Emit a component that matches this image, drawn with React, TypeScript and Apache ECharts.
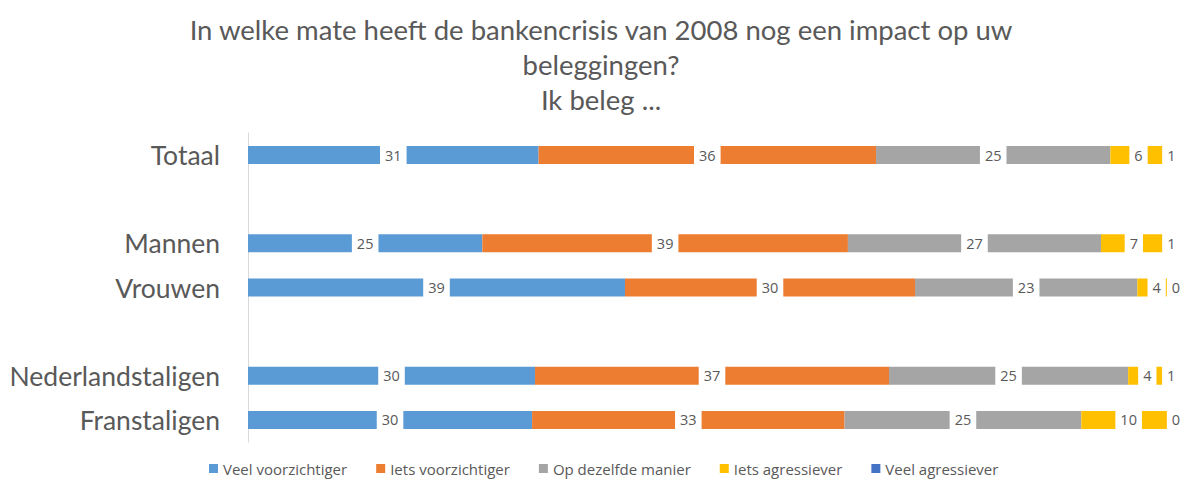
import React, { useEffect, useRef } from "react";
import * as echarts from "echarts";

const categories = ["Totaal", "", "Mannen", "Vrouwen", "", "Nederlandstaligen", "Franstaligen"];
const seriesNames = ["Veel voorzichtiger", "Iets voorzichtiger", "Op dezelfde manier", "Iets agressiever", "Veel agressiever"];
const colors = ["#5B9BD5", "#ED7D31", "#A5A5A5", "#FFC000", "#4472C4"];
// values per category row (null = spacer row)
const veelVoorzichtiger = [31, null, 25, 39, null, 30, 30];
const ietsVoorzichtiger = [36, null, 39, 30, null, 37, 33];
const opDezelfdeManier = [25, null, 27, 23, null, 25, 25];
const ietsAgressiever = [6, null, 7, 4, null, 4, 10];
const veelAgressiever = [1, null, 1, 0, null, 1, 0];

const allSeries = [veelVoorzichtiger, ietsVoorzichtiger, opDezelfdeManier, ietsAgressiever, veelAgressiever];

export default function App() {
  const ref = useRef<HTMLDivElement>(null);
  useEffect(() => {
    document.body.style.margin = "0";
    const chart = echarts.init(ref.current!, null, { renderer: "svg" });
    const totals = categories.map((_, i) =>
      allSeries.reduce((s, arr) => s + (arr[i] == null ? 0 : (arr[i] as number)), 0)
    );
    const series = allSeries.map((arr, si) => ({
      name: seriesNames[si],
      type: "bar",
      stack: "total",
      barWidth: 18,
      clip: false,
      itemStyle: { color: colors[si] },
      label: {
        show: true,
        position: "inside",
        formatter: (p: any) => String(p.data.raw),
        color: "#595959",
        fontFamily: "Open Sans",
        fontSize: 14.5,
        backgroundColor: "#ffffff",
        padding: [3, 5],
        lineHeight: 18,
      },
      data: arr.map((v, i) =>
        v == null ? "-" : { value: (v / totals[i]) * 100, raw: v }
      ),
    }));
    chart.setOption({
      animation: false,
      title: {
        text: "In welke mate heeft de bankencrisis van 2008 nog een impact op uw\nbeleggingen?\nIk beleg ...",
        left: 601,
        top: 12,
        padding: 0,
        textAlign: "center",
        textStyle: {
          fontFamily: "Lato",
          fontWeight: "normal",
          fontSize: 27.5,
          lineHeight: 35,
          color: "#595959",
        },
      },
      legend: {
        top: 456,
        left: 204,
        itemWidth: 9,
        itemHeight: 9,
        itemGap: 29,
        icon: "rect",
        textStyle: { fontFamily: "Open Sans", fontSize: 15, color: "#595959" },
        data: seriesNames,
      },
      grid: { left: 248, right: 9, top: 133, bottom: 38, containLabel: false },
      xAxis: {
        type: "value",
        min: 0,
        max: 100,
        show: false,
      },
      yAxis: {
        type: "category",
        inverse: true,
        data: categories,
        axisLine: { show: true, lineStyle: { color: "#D9D9D9" } },
        axisTick: { show: false },
        axisLabel: {
          margin: 28,
          fontFamily: "Lato",
          fontSize: 26.5,
          color: "#595959",
        },
      },
      series,
    });
    return () => chart.dispose();
  }, []);
  return <div ref={ref} style={{ width: 1185, height: 480 }} />;
}
